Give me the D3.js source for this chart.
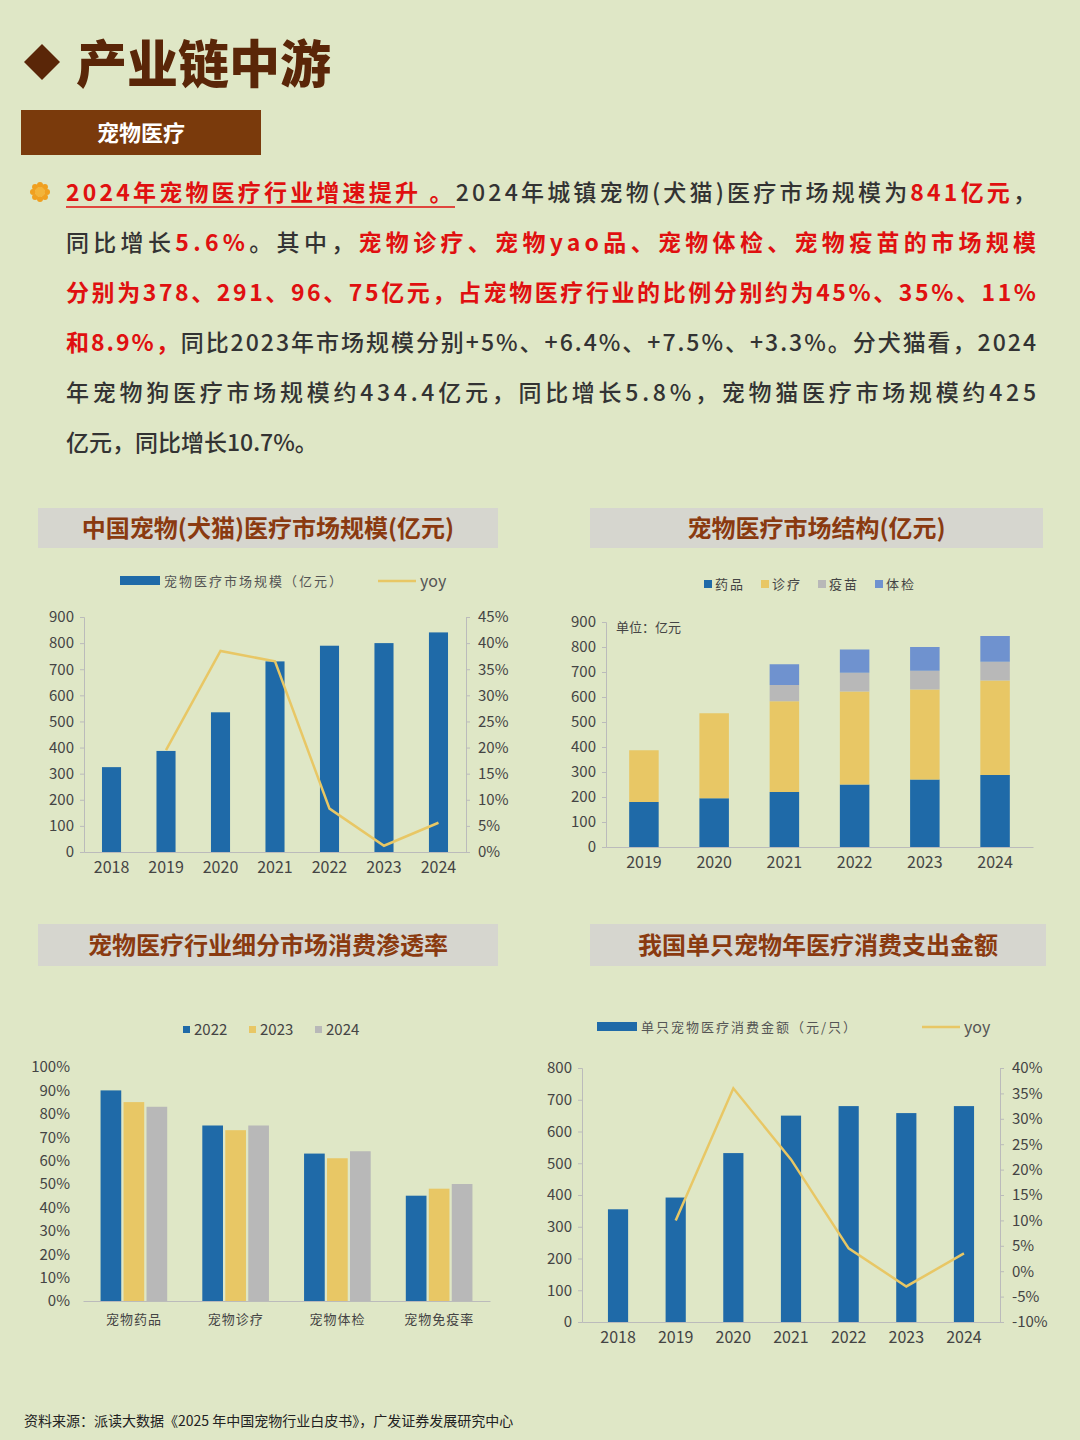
<!DOCTYPE html>
<html><head><meta charset="utf-8">
<script src="https://cdn.jsdelivr.net/npm/d3@7"></script>
<style>body{margin:0;background:#dfe7c6}svg{display:block}text{font-family:"Noto Sans CJK SC",sans-serif}</style>
</head><body>
<svg id="page" width="1080" height="1440"></svg>
<script>
// ---- data ----
const years7 = ["2018","2019","2020","2021","2022","2023","2024"]
const marketSize = [325, 387, 535, 730, 790, 800, 841]
const marketYoy = [null, 19.5, 38.5, 36.5, 8.3, 1.2, 5.6]

const years6 = ["2019","2020","2021","2022","2023","2024"]
const structKeys = ["药品","诊疗","疫苗","体检"]
const drugs = [180, 195, 220, 250, 270, 288]
const clinic = [207, 340, 363, 372, 360, 378]
const vaccine = [0, 0, 65, 75, 75, 75]
const checkup = [0, 0, 83, 93, 95, 103]

const penCats = ["宠物药品","宠物诊疗","宠物体检","宠物免疫率"]
const penYears = ["2022","2023","2024"]
const pen2022 = [90, 75, 63, 45]
const pen2023 = [85, 73, 61, 48]
const pen2024 = [83, 75, 64, 50]

const perPet = [355, 392, 532, 650, 680, 658, 680]
const perPetYoy = [null, 10, 36, 22, 4.5, -3, 3.5]

const BLUE = "#1f6aa8", YEL = "#e8c765", GRAY = "#b8b8b8", LBLUE = "#6f92cf"
const svg = d3.select("#page")

// ---- header ----
svg.append("path").attr("d", "M24,62 L42,44 L60,62 L42,80 Z").attr("fill", "#5a2608")
svg.append("text").attr("x", 76).attr("y", 83).attr("font-size", 51).attr("font-weight", 900)
  .attr("fill", "#5a2608").text("产业链中游")
svg.append("rect").attr("x", 21).attr("y", 110).attr("width", 240).attr("height", 45).attr("fill", "#7a3a0c")
svg.append("text").attr("x", 141).attr("y", 141).attr("text-anchor", "middle").attr("font-size", 22)
  .attr("font-weight", 700).attr("fill", "#fff").text("宠物医疗")

// bullet
let sun = svg.append("g").attr("transform", "translate(40,192)")
d3.range(8).forEach(i => sun.append("circle").attr("r", 3).attr("fill", "#f0a020")
  .attr("cx", 7 * Math.cos(i * Math.PI / 4)).attr("cy", 7 * Math.sin(i * Math.PI / 4)))
sun.append("circle").attr("r", 5).attr("fill", "#f3b43a")

const RED = "#e01010", INK = "#333"
const lines = [
  [["2024年宠物医疗行业增速提升 。", RED], ["2024年城镇宠物(犬猫)医疗市场规模为", INK], ["841亿元", RED], ["，", INK]],
  [["同比增长", INK], ["5.6%", RED], ["。其中，", INK], ["宠物诊疗、宠物yao品、宠物体检、宠物疫苗的市场规模", RED]],
  [["分别为378、291、96、75亿元，占宠物医疗行业的比例分别约为45%、35%、11%", RED]],
  [["和8.9%，", RED], ["同比2023年市场规模分别+5%、+6.4%、+7.5%、+3.3%。分犬猫看，2024", INK]],
  [["年宠物狗医疗市场规模约434.4亿元，同比增长5.8%，宠物猫医疗市场规模约425", INK]],
  [["亿元，同比增长10.7%。", INK]]
]
lines.forEach((ln, i) => {
  let t = svg.append("text").attr("x", 66).attr("y", 201 + i * 50).attr("font-size", 23)
  if (i < 5) t.attr("textLength", 970).attr("lengthAdjust", "spacing")
  ln.forEach(([s, c]) => t.append("tspan").attr("fill", c)
    .attr("font-weight", c == RED ? 700 : 500).text(s))
})
svg.append("line").attr("x1", 66).attr("x2", 455).attr("y1", 207).attr("y2", 207).attr("stroke", RED).attr("stroke-width", 1.5)

// ---- chart titles ----
function titleBox(x, y, w, h, s) {
  svg.append("rect").attr("x", x).attr("y", y).attr("width", w).attr("height", h).attr("fill", "#d6d6cf")
  svg.append("text").attr("x", x + w / 2).attr("y", y + h / 2 + 9).attr("text-anchor", "middle")
    .attr("font-size", 24).attr("font-weight", 700).attr("fill", "#8a3a10").text(s)
}
titleBox(38, 508, 460, 40, "中国宠物(犬猫)医疗市场规模(亿元)")
titleBox(590, 508, 453, 40, "宠物医疗市场结构(亿元)")
titleBox(38, 924, 460, 42, "宠物医疗行业细分市场消费渗透率")
titleBox(590, 924, 456, 42, "我国单只宠物年医疗消费支出金额")

function styleAxis(g) {
  g.selectAll("path").attr("stroke", "#bbb")
  g.selectAll("line").attr("stroke", "#bbb")
  g.selectAll("text").attr("fill", "#444").attr("font-family", "Liberation Sans, Arial").attr("font-size", 15)
}

// ---- bar + line dual chart ----
function dualChart(o) {
  let x = d3.scaleBand().domain(years7).range([o.x0, o.x1]).paddingInner(0.65).paddingOuter(o.outer)
  let y = d3.scaleLinear().domain([0, o.ymax]).range([o.yb, o.yt])
  let y2 = d3.scaleLinear().domain(o.y2dom).range([o.yb, o.yt])
  let gy = svg.append("g").attr("transform", `translate(${o.x0},0)`)
    .call(d3.axisLeft(y).ticks(o.ymax / 100).tickSize(4).tickPadding(6))
  let gy2 = svg.append("g").attr("transform", `translate(${o.x1},0)`)
    .call(d3.axisRight(y2).ticks(10).tickSize(4).tickPadding(8).tickFormat(d => d + "%"))
  let gx = svg.append("g").attr("transform", `translate(0,${o.yb})`)
    .call(d3.axisBottom(x).tickSize(0).tickPadding(10))
  ;[gy, gy2, gx].forEach(styleAxis)
  gx.selectAll("text").attr("font-size", 16)
  svg.append("g").selectAll("rect").data(o.bars).join("rect")
    .attr("x", (d, i) => x(years7[i])).attr("width", x.bandwidth())
    .attr("y", d => y(d)).attr("height", d => o.yb - y(d)).attr("fill", BLUE)
  let pts = o.yoy.map((v, i) => [years7[i], v]).filter(p => p[1] != null)
  svg.append("path").datum(pts).attr("fill", "none").attr("stroke", YEL).attr("stroke-width", 2.5)
    .attr("d", d3.line().x(p => x(p[0]) + x.bandwidth() / 2).y(p => y2(p[1])))
  // legend
  svg.append("rect").attr("x", o.lx).attr("y", o.ly - 5).attr("width", 40).attr("height", 9).attr("fill", BLUE)
  svg.append("text").attr("x", o.lx + 44).attr("y", o.ly + 5).attr("font-size", 13).attr("fill", "#555")
    .attr("letter-spacing", 2).text(o.label)
  svg.append("line").attr("x1", o.lx2).attr("x2", o.lx2 + 38).attr("y1", o.ly).attr("y2", o.ly)
    .attr("stroke", YEL).attr("stroke-width", 2.5)
  svg.append("text").attr("x", o.lx2 + 42).attr("y", o.ly + 6).attr("font-size", 16).attr("fill", "#555")
    .attr("font-family", "Liberation Sans").text("yoy")
}
dualChart({ x0: 84, x1: 466, outer: 0.33, yb: 852, yt: 617, ymax: 900, y2dom: [0, 45], bars: marketSize, yoy: marketYoy,
  lx: 120, lx2: 378, ly: 581, label: "宠物医疗市场规模（亿元）" })
dualChart({ x0: 582, x1: 1000, outer: 0.45, yb: 1322, yt: 1068, ymax: 800, y2dom: [-10, 40], bars: perPet, yoy: perPetYoy,
  lx: 597, lx2: 922, ly: 1027, label: "单只宠物医疗消费金额（元/只）" })

// ---- stacked chart ----
{
  let x = d3.scaleBand().domain(years6).range([606, 1033]).paddingInner(0.58).paddingOuter(0.33)
  let y = d3.scaleLinear().domain([0, 900]).range([847, 622])
  let rows = years6.map((yr, i) => ({ yr, "药品": drugs[i], "诊疗": clinic[i], "疫苗": vaccine[i], "体检": checkup[i] }))
  let series = d3.stack().keys(structKeys)(rows)
  let col = d3.scaleOrdinal().domain(structKeys).range([BLUE, YEL, GRAY, LBLUE])
  let gy = svg.append("g").attr("transform", "translate(606,0)").call(d3.axisLeft(y).ticks(9).tickSize(4).tickPadding(6))
  let gx = svg.append("g").attr("transform", "translate(0,847)").call(d3.axisBottom(x).tickSize(0).tickPadding(10))
  ;[gy, gx].forEach(styleAxis)
  gx.selectAll("text").attr("font-size", 16)
  svg.append("g").selectAll("g").data(series).join("g").attr("fill", d => col(d.key))
    .selectAll("rect").data(d => d).join("rect")
    .attr("x", d => x(d.data.yr)).attr("width", x.bandwidth())
    .attr("y", d => y(d[1])).attr("height", d => y(d[0]) - y(d[1]))
  svg.append("text").attr("x", 616).attr("y", 632).attr("font-size", 13).attr("fill", "#444").text("单位：亿元")
  structKeys.forEach((k, i) => {
    svg.append("rect").attr("x", 704 + i * 57).attr("y", 580).attr("width", 8).attr("height", 8).attr("fill", col(k))
    svg.append("text").attr("x", 715 + i * 57).attr("y", 589).attr("font-size", 13).attr("fill", "#444")
      .attr("letter-spacing", 2).text(k)
  })
}

// ---- grouped penetration chart ----
{
  let x0 = d3.scaleBand().domain(penCats).range([83, 490]).paddingInner(0.3).paddingOuter(0.15)
  let x1 = d3.scaleBand().domain(penYears).range([0, x0.bandwidth()]).padding(0.1)
  let y = d3.scaleLinear().domain([0, 100]).range([1301, 1067])
  let vals = { "2022": pen2022, "2023": pen2023, "2024": pen2024 }
  let col = d3.scaleOrdinal().domain(penYears).range([BLUE, YEL, GRAY])
  let gy = svg.append("g").attr("transform", "translate(78,0)")
    .call(d3.axisLeft(y).ticks(10).tickSize(0).tickPadding(8).tickFormat(d => d + "%"))
  let gx = svg.append("g").attr("transform", "translate(0,1301)").call(d3.axisBottom(x0).tickSize(0).tickPadding(14))
  ;[gy, gx].forEach(styleAxis)
  gy.select("path").remove()
  gx.selectAll("text").attr("font-family", "Noto Sans CJK SC").attr("font-size", 13).attr("letter-spacing", 1)
  penCats.forEach((c, ci) => penYears.forEach(yr => {
    svg.append("rect").attr("x", x0(c) + x1(yr)).attr("width", x1.bandwidth())
      .attr("y", y(vals[yr][ci])).attr("height", 1301 - y(vals[yr][ci])).attr("fill", col(yr))
  }))
  penYears.forEach((yr, i) => {
    svg.append("rect").attr("x", 183 + i * 66).attr("y", 1026).attr("width", 7).attr("height", 7).attr("fill", col(yr))
    svg.append("text").attr("x", 194 + i * 66).attr("y", 1035).attr("font-size", 15).attr("fill", "#444")
      .attr("font-family", "Liberation Sans").text(yr)
  })
}

svg.append("text").attr("x", 24).attr("y", 1426).attr("font-size", 14).attr("fill", "#222")
  .text("资料来源：派读大数据《2025 年中国宠物行业白皮书》，广发证券发展研究中心")
</script>
</body></html>
